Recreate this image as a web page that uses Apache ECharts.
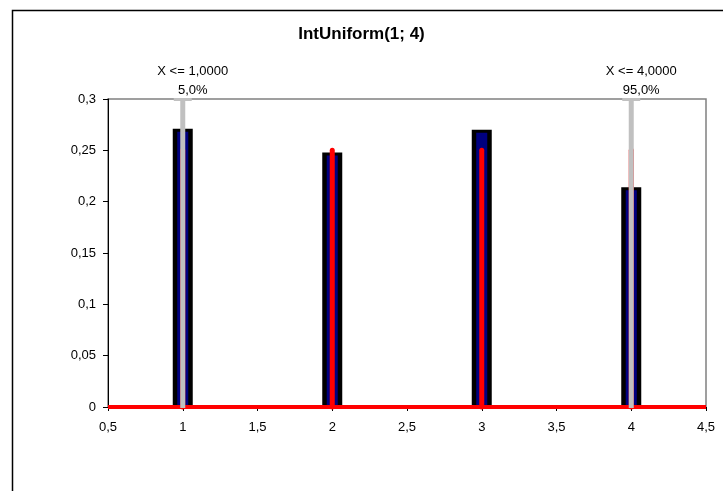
<!DOCTYPE html>
<html>
<head>
<meta charset="utf-8">
<script src="https://cdn.jsdelivr.net/npm/echarts@6/dist/echarts.min.js"></script>
<style>
  html, body { margin: 0; padding: 0; background: #fff; }
  #chart { width: 723px; height: 491px; }
</style>
</head>
<body>
<div id="chart"></div>
<script>
// IntUniform(1; 4): simulated frequencies vs. theoretical probabilities
const titleText = 'IntUniform(1; 4)';
const xValues = [1, 2, 3, 4];
const simulated = [0.271, 0.248, 0.270, 0.214];
const theoretical = [0.25, 0.25, 0.25, 0.25];
const markerX = [1, 4];
const markerLabels = ['X <= 1,0000', 'X <= 4,0000'];
const markerPercents = ['5,0%', '95,0%'];
const xMin = 0.5, xMax = 4.5, xStep = 0.5;
const yMin = 0, yMax = 0.3, yStep = 0.05;

const font = "'Liberation Sans', Arial, sans-serif";
const fmt = v => String(parseFloat(v.toFixed(2))).replace('.', ',');

const chart = echarts.init(document.getElementById('chart'), null, { renderer: 'canvas' });

const barData = xValues.map((x, i) => [x, simulated[i]]);
const theoData = xValues.map((x, i) => [x, theoretical[i]]);
const markerData = markerX.map((x, i) => [x, yMax, i]);

chart.setOption({
  animation: false,
  backgroundColor: '#fff',
  title: {
    text: titleText,
    left: 'center',
    top: 21,
    textStyle: { fontFamily: font, fontSize: 17, fontWeight: 'bold', color: '#000' }
  },
  graphic: [{
    type: 'rect',
    shape: { x: 12.5, y: 10.5, width: 740, height: 500 },
    style: { fill: 'none', stroke: '#000', lineWidth: 1.5 },
    silent: true
  }],
  grid: { left: 108, top: 99, right: 17, bottom: 84, show: true, borderColor: '#808080', borderWidth: 1.5, backgroundColor: 'transparent' },
  xAxis: {
    type: 'value', min: xMin, max: xMax, interval: xStep,
    axisLine: { show: true, onZero: false, lineStyle: { color: '#000', width: 1 } },
    axisTick: { show: true, length: 4, inside: false, lineStyle: { color: '#000' } },
    axisLabel: { fontFamily: font, fontSize: 13, color: '#000', margin: 14, formatter: fmt },
    splitLine: { show: false }
  },
  yAxis: {
    type: 'value', min: yMin, max: yMax, interval: yStep,
    axisLine: { show: true, lineStyle: { color: '#000', width: 1 } },
    axisTick: { show: true, length: 5, inside: false, lineStyle: { color: '#000' } },
    axisLabel: { fontFamily: font, fontSize: 13, color: '#000', margin: 12, formatter: fmt },
    splitLine: { show: false }
  },
  series: [
    {
      // simulated frequency bars: black frame with navy core
      type: 'custom',
      z: 2,
      data: barData,
      renderItem: (params, api) => {
        const top = api.coord([api.value(0), api.value(1)]);
        const base = api.coord([api.value(0), 0]);
        const outerW = 20, innerW = 11, inset = 3;
        return {
          type: 'group',
          children: [
            { type: 'rect', shape: { x: top[0] - outerW / 2, y: top[1], width: outerW, height: base[1] - top[1] }, style: { fill: '#000' } },
            { type: 'rect', shape: { x: top[0] - innerW / 2, y: top[1] + inset, width: innerW, height: base[1] - top[1] - inset }, style: { fill: '#000080' } }
          ]
        };
      }
    },
    {
      // theoretical probability lines
      type: 'custom',
      z: 3,
      data: theoData,
      renderItem: (params, api) => {
        const top = api.coord([api.value(0), api.value(1)]);
        const base = api.coord([api.value(0), 0]);
        return {
          type: 'line',
          shape: { x1: top[0], y1: top[1], x2: base[0], y2: base[1] },
          style: { stroke: '#ff0000', lineWidth: 5, lineCap: 'round' }
        };
      }
    },
    {
      // zero-probability baseline
      type: 'line',
      z: 4,
      data: [[xMin, 0], [xMax, 0]],
      symbol: 'none',
      lineStyle: { color: '#ff0000', width: 4 }
    },
    {
      // percentile markers with labels above the plot
      type: 'custom',
      z: 5,
      data: markerData,
      renderItem: (params, api) => {
        const i = api.value(2);
        const top = api.coord([api.value(0), api.value(1)]);
        const base = api.coord([api.value(0), 0]);
        const labelX = top[0] + 10;
        return {
          type: 'group',
          children: [
            { type: 'line', shape: { x1: top[0], y1: top[1], x2: base[0], y2: base[1] + 1 }, style: { stroke: '#c0c0c0', lineWidth: 5 } },
            { type: 'line', shape: { x1: top[0] - 9, y1: top[1] + 0.5, x2: top[0] + 9, y2: top[1] + 0.5 }, style: { stroke: '#c0c0c0', lineWidth: 3 } },
            { type: 'text', x: labelX, y: top[1] - 28, style: { text: markerLabels[i], fill: '#000', font: '13px ' + font, align: 'center', verticalAlign: 'middle' } },
            { type: 'text', x: labelX, y: top[1] - 9, style: { text: markerPercents[i], fill: '#000', font: '13px ' + font, align: 'center', verticalAlign: 'middle' } }
          ]
        };
      }
    }
  ]
});
</script>
</body>
</html>
